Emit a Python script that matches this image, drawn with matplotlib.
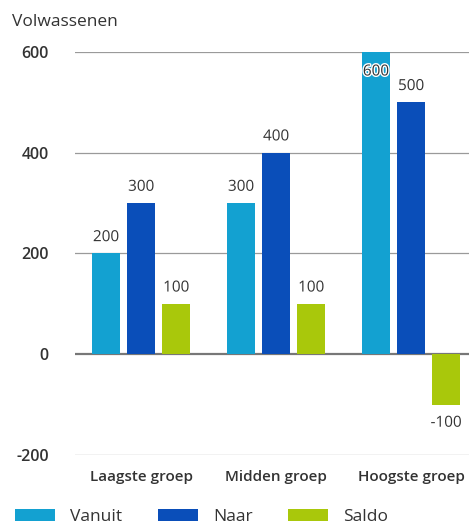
import matplotlib.pyplot as plt
import matplotlib.patheffects as pe
import numpy as np

plt.rcParams['font.family'] = ['Open Sans', 'DejaVu Sans']

groepen = ["Laagste groep", "Midden groep", "Hoogste groep"]
reeksen = ["Vanuit", "Naar", "Saldo"]
vanuit = [200, 300, 600]
naar = [300, 400, 500]
saldo = [100, 100, -100]
kleuren = ["#13a1d1", "#0a4eb9", "#a9c80b"]
yticks = [-200, 0, 200, 400, 600]

tekst = "#333333"

fig = plt.figure(figsize=(4.69, 5.29), dpi=100)
ax = fig.add_axes([0.16, 0.1399, 0.84, 0.7618])

x = np.arange(len(groepen))
step = 0.26
width = 0.207
ymin, ymax = -200, 600

for i, (naam, waarden, kleur) in enumerate(zip(reeksen, [vanuit, naar, saldo], kleuren)):
    pos = x + (i - 1) * step
    ax.bar(pos, waarden, width=width, color=kleur, label=naam, zorder=3)
    for xp, v in zip(pos, waarden):
        if v >= ymax:
            off, va = (0, -9), "top"
        elif v >= 0:
            off, va = (0, 6), "bottom"
        else:
            off, va = (0, -8), "top"
        ax.annotate(str(v), xy=(xp, v), xytext=off, textcoords="offset points",
                    ha="center", va=va, fontsize=11, color=tekst, zorder=4,
                    path_effects=[pe.withStroke(linewidth=2, foreground="white")])

# horizontal gridlines, darker baseline at zero
for t in yticks:
    if t == 0:
        ax.axhline(t, color="#777777", lw=1.6, zorder=2)
    else:
        ax.axhline(t, color="#9a9a9a", lw=0.9, zorder=1)

ax.set_ylim(ymin, ymax)
ax.set_xlim(-0.489, 2.43)
ax.set_yticks(yticks)
ax.set_yticklabels([str(t) for t in yticks], fontsize=11.5, color=tekst, fontweight="semibold")
ax.tick_params(axis="y", length=0, pad=19)
ax.set_xticks(x)
ax.set_xticklabels(groepen, fontsize=11, color=tekst, fontweight="semibold")
ax.tick_params(axis="x", length=0, pad=11)
for s in ax.spines.values():
    s.set_visible(False)

fig.text(0.026, 0.958, "Volwassenen", fontsize=12.5, color=tekst, va="center")

fig.legend(loc="center left", bbox_to_anchor=(0.032, 0.023), ncol=3, frameon=False,
           fontsize=12.5, handlelength=2.3, handleheight=0.7, handletextpad=0.86,
           columnspacing=2.07, labelcolor=tekst, borderaxespad=0, borderpad=0)

fig.savefig("out.png", dpi=100)
